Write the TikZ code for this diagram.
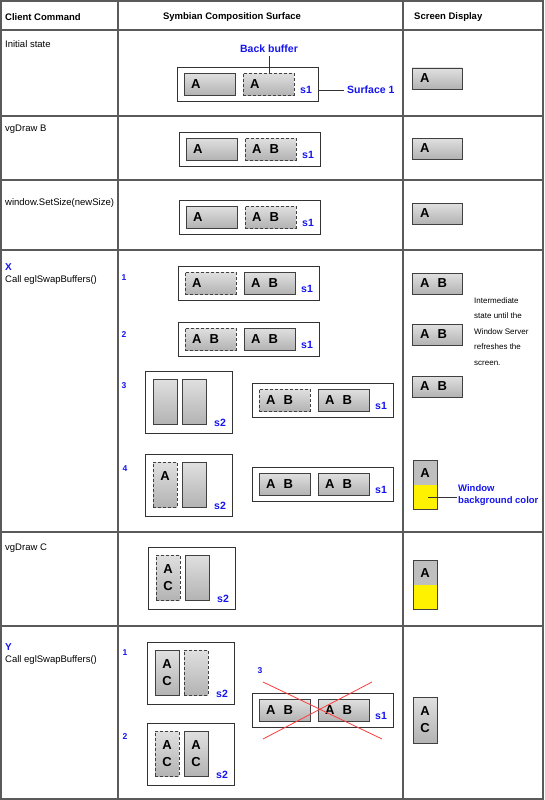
\documentclass[tikz,border=0pt]{standalone}
\usepackage{fontspec}
\setmainfont{Liberation Sans}
\definecolor{myblue}{RGB}{20,20,240}
\definecolor{tline}{RGB}{90,90,90}
\definecolor{xred}{RGB}{255,60,60}
\tikzset{
 tbl/.style={draw=tline, line width=1.3pt},
 surf/.style={draw=black!80, line width=0.9pt, fill=white, anchor=north west, inner sep=0, outer sep=0},
 buf/.style={draw=black!75, line width=0.9pt, top color=black!12, bottom color=black!30, anchor=north west, inner sep=0, outer sep=0},
 dbuf/.style={buf, dash pattern=on 3pt off 2pt},
 ltr/.style={font=\bfseries\fontsize{13}{17}\selectfont, inner sep=0, align=center},
 lbl/.style={font=\bfseries\fontsize{10.5}{12}\selectfont, text=myblue, inner sep=0},
 numlbl/.style={font=\bfseries\fontsize{8.5}{10}\selectfont, text=myblue, inner sep=0},
 hdr/.style={font=\bfseries\fontsize{9.5}{11}\selectfont, inner sep=0},
 cmd/.style={font=\fontsize{9.5}{11}\selectfont, inner sep=0, anchor=west},
 conn/.style={draw=black!80, line width=0.8pt},
}
\newcommand\sone[7]{%
 \node[surf, minimum width=141, minimum height=34] (#1) at (#2,#3) {};
 \node[#4, minimum width=51, minimum height=22] (#1L) at ([shift={(7,6)}]#1.north west) {};
 \node[ltr, anchor=west] (#1Lt) at ([xshift=7pt]#1L.west) {#5};
 \node[#6, minimum width=51, minimum height=22] (#1R) at ([shift={(66,6)}]#1.north west) {};
 \node[ltr, anchor=west] (#1Rt) at ([xshift=7pt]#1R.west) {#7};
 \node[lbl] (#1s) at ([shift={(-12,-11)}]#1.south east) {s1};
}
\newcommand\stwo[7]{%
 \node[surf, minimum width=87, minimum height=62] (#1) at (#2,#3) {};
 \node[#4, minimum width=24, minimum height=45] (#1L) at ([shift={(8,8)}]#1.north west) {};
 \node[ltr, anchor=north] (#1Lt) at ([yshift=-9pt]#1L.north) {#5};
 \node[#6, minimum width=24, minimum height=45] (#1R) at ([shift={(37,8)}]#1.north west) {};
 \node[ltr, anchor=north] (#1Rt) at ([yshift=-9pt]#1R.north) {#7};
 \node[lbl] (#1s) at ([shift={(-12,-10)}]#1.south east) {s2};
}
\newcommand\scr[4]{%
 \node[buf, minimum width=50, minimum height=21] (#1) at (#2,#3) {};
 \node[ltr, anchor=west] (#1t) at ([xshift=8pt]#1.west) {#4};
}
\newcommand\scrw[3]{%
 \node[fill=black!25, anchor=north west, inner sep=0, outer sep=0, minimum width=24, minimum height=25] (#1) at (#2,#3) {};
 \node[fill=yellow, anchor=north west, inner sep=0, outer sep=0, minimum width=24, minimum height=24] (#1y) at ([yshift=-25pt]#1.north west) {};
 \node[draw=black!75, line width=0.9pt, anchor=north west, inner sep=0, outer sep=0, minimum width=24, minimum height=49] (#1b) at (#2,#3) {};
 \node[ltr, anchor=north] (#1t) at ([yshift=-8pt]#1.north) {A};
}
\begin{document}
\begin{tikzpicture}[x=1pt,y=-1pt]
\useasboundingbox (0,0) rectangle (544,800);
% table
\draw[tbl] (1,1) rectangle (543,799);
\foreach \yy in {30,116,180,250,532,626} \draw[tbl] (1,\yy) -- (543,\yy);
\draw[tbl] (118,1) -- (118,799);
\draw[tbl] (403,1) -- (403,799);
% headers
\node[hdr, anchor=west] (h1) at (5,17) {Client Command};
\node[hdr] (h2) at (232,17) {Symbian Composition Surface};
\node[hdr, anchor=west] (h3) at (414,17) {Screen Display};
% commands
\node[cmd] (c1) at (5,44) {Initial state};
\node[cmd] (c2) at (5,129) {vgDraw B};
\node[cmd] (c3) at (5,203) {window.SetSize(newSize)};
\node[lbl, anchor=west, font=\bfseries\fontsize{10}{12}\selectfont] (cX) at (5,267) {X};
\node[cmd] (c4) at (5,280) {Call eglSwapBuffers()};
\node[cmd] (c5) at (5,548) {vgDraw C};
\node[lbl, anchor=west, font=\bfseries\fontsize{10}{12}\selectfont] (cY) at (5,647) {Y};
\node[cmd] (c6) at (5,660) {Call eglSwapBuffers()};
% initial state
\sone{ini}{177}{67}{buf}{A}{dbuf}{A}
\node[lbl] (bb) at (269,49) {Back buffer};
\draw[conn] ([yshift=-3pt]bb.south) -- (bb.south |- iniR.north);
\node[lbl, anchor=west] (sf) at (347,90) {Surface 1};
\draw[conn] (ini.east |- sf.west) -- ([xshift=-3pt]sf.west);
\scr{sc1}{412}{68}{A}
% vgDraw B
\sone{vgb}{179}{132}{buf}{A}{dbuf}{A\hspace{8pt}B}
\scr{sc2}{412}{138}{A}
% window.SetSize
\sone{ws}{179}{200}{buf}{A}{dbuf}{A\hspace{8pt}B}
\scr{sc3}{412}{203}{A}
% X
\node[numlbl] (n1) at (124,278) {1};
\sone{xa}{178}{266}{dbuf}{A}{buf}{A\hspace{8pt}B}
\node[numlbl] (n2) at (124,335) {2};
\sone{xb}{178}{322}{dbuf}{A\hspace{8pt}B}{buf}{A\hspace{8pt}B}
\node[numlbl] (n3) at (124,386) {3};
\stwo{xc}{145}{371}{buf}{}{buf}{}
\sone{xd}{252}{383}{dbuf}{A\hspace{8pt}B}{buf}{A\hspace{8pt}B}
\node[numlbl] (n4) at (125,469) {4};
\stwo{xe}{145}{454}{dbuf}{A}{buf}{}
\sone{xf}{252}{467}{buf}{A\hspace{8pt}B}{buf}{A\hspace{8pt}B}
\scr{sc4}{412}{273}{A\hspace{8pt}B}
\scr{sc5}{412}{324}{A\hspace{8pt}B}
\scr{sc6}{412}{376}{A\hspace{8pt}B}
\node[anchor=north west, inner sep=0, align=left, font=\fontsize{8}{15.5}\selectfont] (im) at (474,297) {Intermediate\\state until the\\Window Server\\refreshes the\\screen.};
\scrw{w1}{413}{460}
\node[lbl, anchor=west, align=left, font=\bfseries\fontsize{9.5}{12}\selectfont] (wbc) at (458,495) {Window\\background color};
\draw[conn] ([xshift=3pt]w1y.center) -- ([xshift=-1pt]w1y.center -| wbc.west);
% vgDraw C
\stwo{vc}{148}{547}{dbuf}{A\\C}{buf}{}
\scrw{w2}{413}{560}
% Y
\node[numlbl] (m1) at (125,653) {1};
\stwo{ya}{147}{642}{buf}{A\\C}{dbuf}{}
\node[numlbl] (m2) at (125,737) {2};
\stwo{yb}{147}{723}{dbuf}{A\\C}{buf}{A\\C}
\node[numlbl] (m3) at (260,671) {3};
\sone{yc}{252}{693}{buf}{A\hspace{8pt}B}{buf}{A\hspace{8pt}B}
\coordinate (r1) at (263,682);
\coordinate (r2) at (382,739);
\coordinate (r3) at (372,682);
\coordinate (r4) at (263,739);
\draw[xred, line width=0.8pt] (r1) -- (r2);
\draw[xred, line width=0.8pt] (r3) -- (r4);
\node[buf, minimum width=24, minimum height=46] (sy) at (413,697) {};
\node[ltr, anchor=north] (syt) at ([yshift=-9pt]sy.north) {A\\C};
\end{tikzpicture}
\end{document}
